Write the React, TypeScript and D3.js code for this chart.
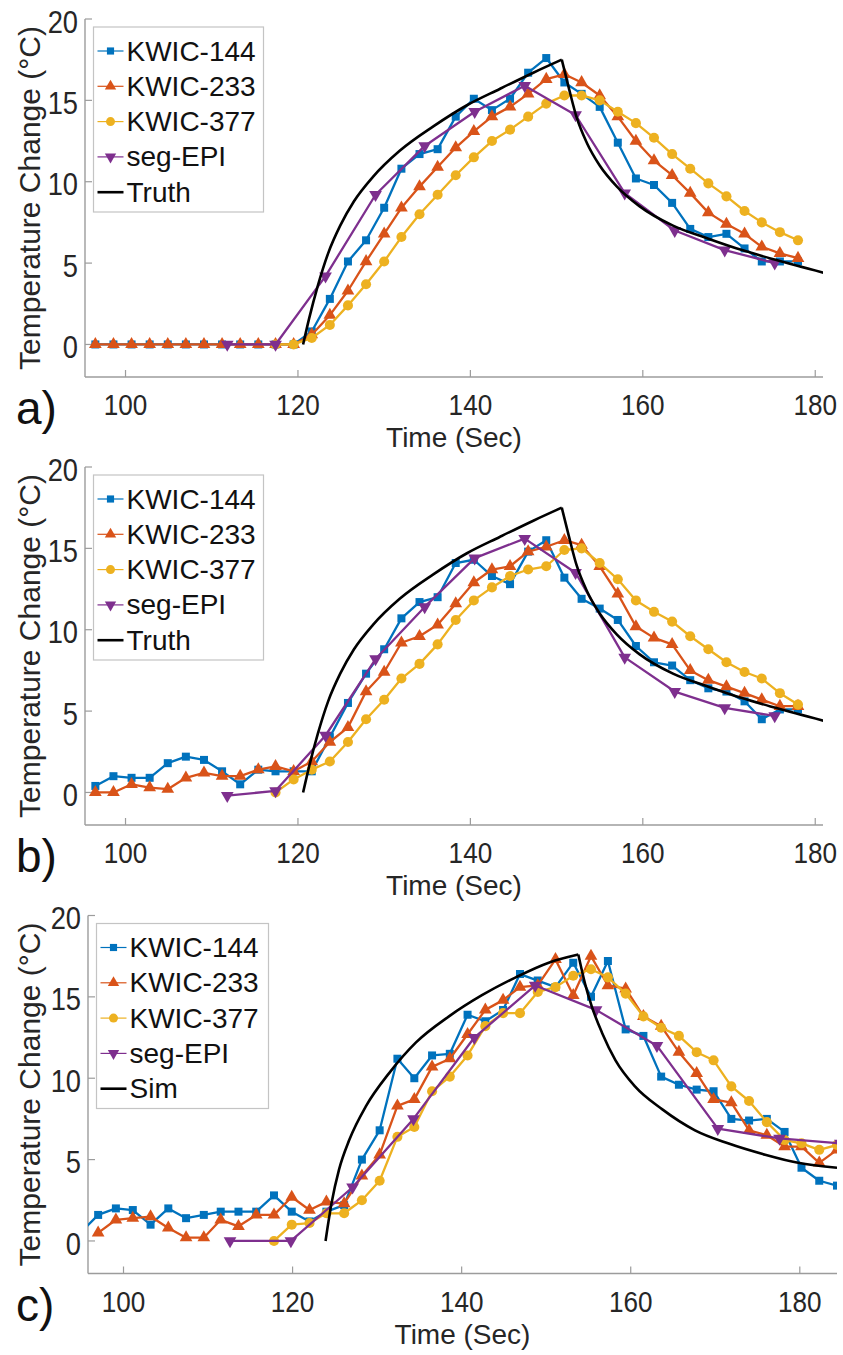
import React from 'react';
import * as d3 from 'd3';

// sample times (s) of the KWIC curves, panels a and b
const timeAB = [96.5, 98.6, 100.7, 102.8, 104.9, 107.0, 109.1, 111.2, 113.3, 115.4, 117.4, 119.5, 121.6, 123.7, 125.8, 127.9, 130.0, 132.0, 134.1, 136.2, 138.3, 140.4, 142.5, 144.6, 146.7, 148.8, 150.9, 152.9, 155.0, 157.1, 159.2, 161.3, 163.4, 165.5, 167.6, 169.7, 171.8, 173.8, 175.9, 178.0];
const timeSegAB = [111.8, 117.4, 123.2, 129.0, 134.7, 140.5, 146.3, 152.2, 157.9, 163.7, 169.5, 175.3];
// panel c is shifted by a few seconds
const timeC = [94.9, 97.0, 99.1, 101.1, 103.2, 105.3, 107.4, 109.5, 111.5, 113.6, 115.7, 117.8, 119.9, 122.0, 124.0, 126.1, 128.2, 130.3, 132.4, 134.4, 136.5, 138.6, 140.7, 142.8, 144.9, 146.9, 149.0, 151.1, 153.2, 155.3, 157.3, 159.4, 161.5, 163.6, 165.7, 167.8, 169.8, 171.9, 174.0, 176.1, 178.2, 180.2, 182.3, 184.4];
const timeSegC = [112.6, 119.8, 127.1, 134.3, 141.5, 148.7, 155.9, 163.1, 170.3, 177.6, 184.8];

// a)
const kwic144A = [0, 0, 0, 0, 0, 0, 0, 0, 0, 0, 0, 0, 0.8, 2.8, 5.1, 6.4, 8.4, 10.8, 11.7, 12.0, 14.0, 15.1, 14.4, 15.1, 16.7, 17.6, 16.1, 15.4, 14.6, 12.4, 10.2, 9.8, 8.7, 7.1, 6.6, 6.8, 5.9, 5.1, 5.1, 5.1];
const kwic233A = [0, 0, 0, 0, 0, 0, 0, 0, 0, 0, 0, 0, 0.6, 1.8, 3.3, 5.1, 6.8, 8.4, 9.7, 10.9, 12.1, 13.1, 14.0, 14.6, 15.4, 16.3, 16.6, 16.1, 15.3, 14.0, 12.5, 11.3, 10.4, 9.3, 8.1, 7.4, 6.8, 6.0, 5.6, 5.3];
const kwic377A = [null, null, null, null, null, null, null, null, null, null, 0, 0, 0.4, 1.2, 2.4, 3.7, 5.1, 6.6, 8.0, 9.2, 10.4, 11.5, 12.5, 13.2, 14.0, 14.8, 15.3, 15.3, 15.0, 14.3, 13.6, 12.7, 11.7, 10.8, 9.9, 9.1, 8.2, 7.5, 6.9, 6.4];
const segEpiA = [0, 0, 4.2, 9.2, 12.2, 14.3, 15.9, 14.1, 9.3, 7.0, 5.8, 5.0];

// b)
const kwic144B = [0.4, 1.0, 0.9, 0.9, 1.8, 2.2, 2.0, 1.3, 0.5, 1.4, 1.3, 1.3, 1.3, 3.4, 5.5, 7.3, 8.8, 10.7, 11.7, 12.0, 14.1, 14.3, 13.3, 12.8, 14.8, 15.5, 13.2, 11.9, 11.3, 10.6, 9.0, 8.0, 7.8, 6.9, 6.4, 6.2, 5.6, 4.5, 5.1, 5.1];
const kwic233B = [0, 0, 0.5, 0.3, 0.2, 0.9, 1.2, 1.0, 1.0, 1.4, 1.6, 1.3, 1.9, 3.1, 4.0, 6.2, 7.4, 9.2, 9.6, 10.3, 11.6, 12.9, 13.7, 13.9, 14.8, 15.1, 15.5, 15.2, 13.9, 12.2, 10.2, 9.5, 9.1, 7.5, 6.9, 6.5, 6.1, 5.7, 5.3, 5.3];
const kwic377B = [null, null, null, null, null, null, null, null, null, null, 0, 0.8, 1.4, 1.9, 3.1, 4.5, 5.7, 7.0, 7.9, 9.1, 10.6, 11.8, 12.6, 13.3, 13.7, 13.9, 14.9, 15.0, 14.1, 13.1, 11.8, 11.1, 10.5, 9.6, 8.8, 8.0, 7.4, 7.0, 6.1, 5.4];
const segEpiB = [-0.2, 0.1, 3.5, 8.2, 11.4, 14.4, 15.6, 13.5, 8.3, 6.2, 5.2, 4.7];

// c)
const kwic144C = [0.5, 1.6, 2.0, 1.9, 1.0, 2.0, 1.4, 1.6, 1.8, 1.8, 1.8, 2.8, 1.8, 1.2, 1.8, 2.2, 5.0, 6.8, 11.2, 10.0, 11.4, 11.5, 13.9, 13.5, 14.2, 16.4, 16.0, 15.6, 17.1, 15.0, 17.2, 13.0, 12.6, 10.1, 9.6, 9.3, 9.2, 7.5, 7.4, 7.5, 6.7, 4.5, 3.7, 3.4];
const kwic233C = [null, 0.5, 1.3, 1.4, 1.5, 0.8, 0.2, 0.2, 1.3, 0.9, 1.6, 1.6, 2.7, 1.9, 2.4, 2.3, 4.0, 5.3, 8.3, 8.7, 10.7, 11.2, 12.7, 14.2, 14.8, 15.6, 15.7, 17.3, 15.1, 17.5, 15.7, 15.5, 13.8, 13.2, 11.6, 10.3, 8.7, 8.5, 6.8, 6.5, 5.8, 5.8, 4.8, 5.6];
const kwic377C = [null, null, null, null, null, null, null, null, null, null, null, 0, 1.0, 1.1, 1.7, 1.7, 2.5, 3.7, 6.4, 7.0, 9.2, 10.1, 11.4, 13.2, 14.0, 14.0, 15.3, 15.6, 16.3, 16.7, 16.2, 15.2, 13.8, 13.1, 12.6, 11.6, 11.1, 9.5, 8.6, 7.3, 6.2, 6.0, 5.6, 5.9];
const segEpiC = [0, 0, 3.3, 7.5, 12.5, 15.7, 14.2, 12.0, 6.9, 6.3, 6.0];

// reference curves
const truthTime = [120.6, 121.3, 122.3, 123.5, 124.9, 126.5, 128.7, 131.8, 135.7, 139.6, 143.4, 147.3, 150.6, 151.4, 152.3, 153.5, 155.0, 157.0, 159.6, 163.5, 167.6, 171.5, 175.4, 181.0];
const truthValues = [0, 1.6, 3.6, 5.6, 7.3, 8.8, 10.3, 11.9, 13.4, 14.7, 15.7, 16.7, 17.5, 15.8, 14.0, 12.4, 11.0, 9.7, 8.5, 7.3, 6.5, 5.8, 5.2, 4.4];
const simTime = [123.9, 124.6, 125.5, 126.7, 128.7, 131.4, 134.6, 138.5, 142.4, 146.4, 150.3, 153.8, 154.6, 155.4, 156.6, 158.2, 160.5, 163.7, 167.6, 171.5, 175.9, 179.8, 184.4];
const simValues = [0, 2.3, 4.4, 6.2, 8.3, 10.3, 12.2, 13.8, 15.1, 16.2, 17.1, 17.6, 15.8, 14.4, 12.8, 11.1, 9.5, 8.1, 6.8, 6.0, 5.3, 4.8, 4.5];

const seriesNames = ['KWIC-144', 'KWIC-233', 'KWIC-377', 'seg-EPI'];
const panelLabels = ['a)', 'b)', 'c)'];
const xTicks = [100, 120, 140, 160, 180];
const yTicks = [0, 5, 10, 15, 20];

const COLORS = ['#0072BD', '#D95319', '#EDB120', '#7E2F8E'];
const SYMBOLS = [d3.symbolSquare, d3.symbolTriangle, d3.symbolCircle, d3.symbolTriangle];
const SIZES = [64, 70, 80, 70];
const FONT = '"Liberation Sans", Arial, Helvetica, sans-serif';
const AXIS = '#9c9c9c';

const panels = [
  {
    label: panelLabels[0], left: 85, right: 823, top: 19, bottom: 377, xDomain: [95.3, 180.9],
    times: [timeAB, timeAB, timeAB, timeSegAB], values: [kwic144A, kwic233A, kwic377A, segEpiA],
    refTime: truthTime, refValues: truthValues, refName: 'Truth', legendW: 170,
  },
  {
    label: panelLabels[1], left: 85, right: 823, top: 467, bottom: 825, xDomain: [95.3, 180.9],
    times: [timeAB, timeAB, timeAB, timeSegAB], values: [kwic144B, kwic233B, kwic377B, segEpiB],
    refTime: truthTime, refValues: truthValues, refName: 'Truth', legendW: 170,
  },
  {
    label: panelLabels[2], left: 88, right: 837, top: 915.5, bottom: 1273.5, xDomain: [95.8, 184.4],
    times: [timeC, timeC, timeC, timeSegC], values: [kwic144C, kwic233C, kwic377C, segEpiC],
    refTime: simTime, refValues: simValues, refName: 'Sim', legendW: 172,
  },
];

function symbolPath(i: number, scale = 1) {
  return d3.symbol().type(SYMBOLS[i]).size(SIZES[i] * scale)() as string;
}

function Panel({ p, idx }: { p: any; idx: number }) {
  const x = d3.scaleLinear().domain(p.xDomain).range([p.left, p.right]);
  const y = d3.scaleLinear().domain([-2, 20]).range([p.bottom, p.top]);
  const line = d3.line<[number, number | null]>()
    .defined((d) => d[1] !== null)
    .x((d) => x(d[0]))
    .y((d) => y(d[1] as number));
  const smooth = d3.line<[number, number]>()
    .x((d) => x(d[0]))
    .y((d) => y(d[1]))
    .curve(d3.curveMonotoneX);

  // reference curve has a sharp corner at its peak
  const refPts: [number, number][] = p.refTime.map((t: number, i: number) => [t, p.refValues[i]]);
  const peak = d3.maxIndex(refPts, (d) => d[1]);
  const rise = refPts.slice(0, peak + 1);
  const fall = refPts.slice(peak);

  const clipId = `clip-${idx}`;
  const lg = { x: p.left + 8.5, y: p.top + 8, w: p.legendW, h: 185, row: 35.3 };
  const names = [...seriesNames, p.refName];

  return (
    <g>
      <defs>
        <clipPath id={clipId}>
          <rect x={p.left} y={p.top - 30} width={p.right - p.left} height={p.bottom - p.top + 40} />
        </clipPath>
      </defs>

      {/* axes */}
      <line x1={p.left} x2={p.right} y1={p.bottom} y2={p.bottom} stroke={AXIS} strokeWidth={1.4} />
      <line x1={p.left} x2={p.left} y1={y(20)} y2={p.bottom} stroke={AXIS} strokeWidth={1.4} />
      {xTicks.map((t) => (
        <g key={`xt${t}`}>
          <line x1={x(t)} x2={x(t)} y1={p.bottom} y2={p.bottom - 7} stroke={AXIS} strokeWidth={1.2} />
          <g transform={`translate(${x(t)},${p.bottom + 38}) scale(0.9,1)`}>
            <text textAnchor="middle" fontSize={29} fill="#262626">{t}</text>
          </g>
        </g>
      ))}
      {yTicks.map((v) => (
        <g key={`yt${v}`}>
          <line x1={p.left} x2={p.left + 7} y1={y(v)} y2={y(v)} stroke={AXIS} strokeWidth={1.2} />
          <g transform={`translate(${p.left - 7},${y(v) + 3}) scale(0.88,1)`}>
            <text textAnchor="end" dominantBaseline="central" fontSize={31} fill="#262626">{v}</text>
          </g>
        </g>
      ))}
      <text
        transform={`translate(29,${(p.top + p.bottom) / 2}) rotate(-90)`}
        textAnchor="middle" dominantBaseline="central" fontSize={30} fill="#262626"
      >
        Temperature Change (°C)
      </text>
      <text x={(p.left + p.right) / 2} y={p.bottom + 70} textAnchor="middle" fontSize={28} fill="#262626">
        Time (Sec)
      </text>
      <text x={16} y={p.bottom + 47} fontSize={46} fill="#111">{p.label}</text>

      {/* data */}
      <g clipPath={`url(#${clipId})`}>
        {p.values.map((vals: (number | null)[], si: number) => {
          const pts: [number, number | null][] = p.times[si].map((t: number, i: number) => [t, vals[i]]);
          return (
            <g key={`s${si}`}>
              <path d={line(pts) as string} fill="none" stroke={COLORS[si]} strokeWidth={2.3} strokeLinejoin="round" />
              {pts.filter((d) => d[1] !== null).map((d, i) => (
                <path
                  key={i}
                  d={symbolPath(si)}
                  fill={COLORS[si]}
                  transform={`translate(${x(d[0])},${y(d[1] as number)})${si === 3 ? ' rotate(180)' : ''}`}
                />
              ))}
            </g>
          );
        })}
        <path d={smooth(rise) as string} fill="none" stroke="#000" strokeWidth={2.6} />
        <path d={smooth(fall) as string} fill="none" stroke="#000" strokeWidth={2.6} />
      </g>

      {/* legend */}
      <rect x={lg.x} y={lg.y} width={lg.w} height={lg.h} fill="#fff" stroke="#c4c4c4" strokeWidth={1.2} />
      {names.map((name, i) => {
        const cy = lg.y + 24 + i * lg.row;
        return (
          <g key={name}>
            <line x1={lg.x + 4} x2={lg.x + 30} y1={cy} y2={cy} stroke={i < 4 ? COLORS[i] : '#000'} strokeWidth={i < 4 ? 1.2 : 2.6} />
            {i < 4 && (
              <path
                d={symbolPath(i, 0.8)}
                fill={COLORS[i]}
                transform={`translate(${lg.x + 17},${cy})${i === 3 ? ' rotate(180)' : ''}`}
              />
            )}
            <text x={lg.x + 33} y={cy} dominantBaseline="central" fontSize={28} fill="#111">{name}</text>
          </g>
        );
      })}
    </g>
  );
}

export default function App() {
  return (
    <svg
      width={843}
      height={1355}
      style={{ position: 'absolute', left: 0, top: 0, background: '#fff', fontFamily: FONT }}
    >
      <rect width={843} height={1355} fill="#fff" />
      {panels.map((p, i) => (
        <Panel key={i} p={p} idx={i} />
      ))}
    </svg>
  );
}
